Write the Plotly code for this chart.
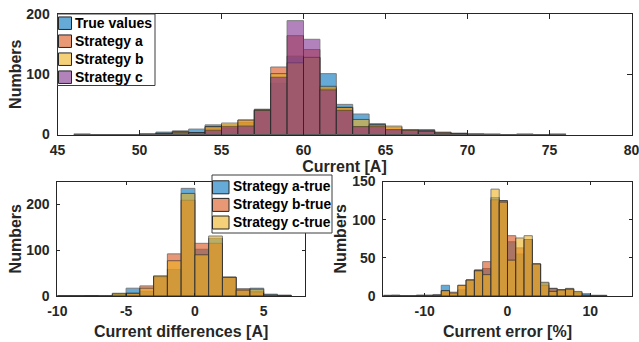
import plotly.graph_objects as go

# ---------------------------------------------------------------- data
# Panel 1: distribution of the current, 1 A bins starting at 46 A
current_bin_start = 46
current_bin_width = 1
current_true = [1, 0, 0, 0, 1, 4, 6, 9, 16, 10, 20, 42, 85, 130, 128, 101, 50, 34,
                18, 8, 7, 8, 2, 1, 1, 1, 0, 1, 0, 1]
current_a = [0, 0, 0, 0, 0, 2, 3, 3, 13, 16, 24, 40, 112, 164, 141, 77, 45, 13,
             16, 12, 7, 7, 4, 2, 0, 0, 0, 0, 0, 0]
current_b = [0, 0, 0, 0, 0, 2, 5, 3, 13, 19, 24, 41, 101, 119, 128, 80, 45, 25,
             16, 14, 8, 6, 3, 1, 1, 0, 0, 0, 0, 0]
current_c = [0, 0, 0, 0, 1, 1, 3, 3, 7, 13, 14, 40, 95, 189, 158, 74, 40, 13,
             13, 8, 7, 5, 2, 2, 0, 0, 0, 0, 0, 0]
current_names = ["True values", "Strategy a", "Strategy b", "Strategy c"]

# Panel 2: strategy minus true current, 1 A bins starting at -10 A
diff_bin_start = -10
diff_bin_width = 1
diff_a = [1, 0, 1, 0, 5, 17, 10, 43, 58, 235, 102, 126, 41, 13, 17, 4, 1]
diff_b = [0, 0, 1, 0, 3, 6, 22, 42, 92, 209, 115, 115, 41, 16, 9, 2, 2]
diff_c = [0, 1, 0, 0, 6, 6, 17, 44, 77, 224, 90, 131, 41, 13, 15, 2, 1]
diff_names = ["Strategy a-true", "Strategy b-true", "Strategy c-true"]

# Panel 3: relative error, 1 % bins starting at -15 %
err_bin_start = -15
err_bin_width = 1
err_a = [1, 0, 0, 0, 1, 0, 2, 14, 3, 8, 21, 34, 36, 129, 125, 71, 55, 74, 42,
         17, 10, 8, 9, 5, 3, 0, 0]
err_b = [0, 1, 0, 0, 1, 1, 0, 7, 5, 14, 21, 34, 45, 126, 125, 79, 63, 74, 42,
         14, 10, 8, 10, 4, 1, 1, 1]
err_c = [0, 1, 0, 0, 0, 1, 1, 7, 4, 14, 21, 33, 28, 140, 123, 47, 76, 79, 42,
         18, 6, 8, 9, 6, 1, 0, 0]

# axis ticks
current_ticks = [45, 50, 55, 60, 65, 70, 75, 80]
current_count_ticks = [0, 100, 200]
diff_ticks = [-10, -5, 0, 5]
diff_tick_text = ["-10", "-5", "0", "5"]
diff_count_ticks = [0, 100, 200]
err_ticks = [-10, 0, 10]
err_tick_text = ["-10", "0", "10"]
err_count_ticks = [0, 50, 100, 150]

# ---------------------------------------------------------------- style
W, H = 639, 342
BLUE, ORANGE, YELLOW, PURPLE = "#0072BD", "#D95319", "#EDB120", "#7E2F8E"
INK = "#262626"
FACE_ALPHA = 0.6
FONT = "Liberation Sans, Arial, sans-serif"


def rgba(hex_color, alpha):
    h = hex_color.lstrip("#")
    r, g, b = (int(h[i:i + 2], 16) for i in (0, 2, 4))
    return f"rgba({r},{g},{b},{alpha})"


def px(x):
    return x / W


def py(y):
    return 1 - y / H


fig = go.Figure()


def add_hist(counts, start, width, color, name, xa, ya):
    centers = [start + (i + 0.5) * width for i in range(len(counts))]
    fig.add_trace(go.Bar(
        x=centers, y=counts, width=width, name=name,
        marker=dict(color=color, line=dict(color=INK, width=1)),
        opacity=FACE_ALPHA, xaxis=xa, yaxis=ya, showlegend=False,
    ))


for counts, color, name in zip([current_true, current_a, current_b, current_c],
                               [BLUE, ORANGE, YELLOW, PURPLE], current_names):
    add_hist(counts, current_bin_start, current_bin_width, color, name, "x", "y")

for counts, color, name in zip([diff_a, diff_b, diff_c],
                               [BLUE, ORANGE, YELLOW], diff_names):
    add_hist(counts, diff_bin_start, diff_bin_width, color, name, "x2", "y2")

for counts, color, name in zip([err_a, err_b, err_c],
                               [BLUE, ORANGE, YELLOW], diff_names):
    add_hist(counts, err_bin_start, err_bin_width, color, name, "x3", "y3")

tick_font = dict(family=FONT, size=14, color=INK, weight="bold")
title_font = dict(family=FONT, size=16, color=INK, weight="bold")


def axis(domain, rng, tickvals, ticktext=None, ticklen=5, title=None,
         standoff=4, label_standoff=6, anchor=None):
    d = dict(domain=domain, range=rng, tickvals=tickvals, ticks="inside",
             ticklen=ticklen, tickwidth=1, tickcolor=INK, showline=True,
             linecolor=INK, linewidth=1, mirror="ticks", showgrid=False,
             zeroline=False, tickfont=tick_font, anchor=anchor,
             ticklabelstandoff=label_standoff, ticklabeloverflow="allow",
             automargin=False, fixedrange=True)
    if ticktext is not None:
        d["ticktext"] = ticktext
    if title:
        d["title"] = dict(text=title, font=title_font, standoff=standoff)
    return d


top_dom_y = [py(134.5), py(14)]
bot_dom_y = [py(296), py(181.5)]

fig.update_layout(
    width=W, height=H, margin=dict(l=0, r=0, t=0, b=0, autoexpand=False),
    paper_bgcolor="white", plot_bgcolor="white",
    barmode="overlay", showlegend=False,
    font=dict(family=FONT, color=INK),
    xaxis=axis([px(57.5), px(631.5)], [45, 80], current_ticks, ticklen=5,
               title="Current [A]", standoff=1, label_standoff=3, anchor="y"),
    yaxis=axis(top_dom_y, [0, 200], current_count_ticks, ticklen=5,
               title="Numbers", standoff=0, label_standoff=4, anchor="x"),
    xaxis2=axis([px(57.3), px(305)], [-10, 8], diff_ticks, diff_tick_text,
                ticklen=3, title="Current differences [A]", standoff=8,
                label_standoff=2, anchor="y2"),
    yaxis2=axis(bot_dom_y, [0, 250], diff_count_ticks, ticklen=3,
                title="Numbers", standoff=0, label_standoff=4, anchor="x2"),
    xaxis3=axis([px(383.3), px(631.7)], [-15, 15], err_ticks, err_tick_text,
                ticklen=3, title="Current error [%]", standoff=8,
                label_standoff=2, anchor="y3"),
    yaxis3=axis(bot_dom_y, [0, 150], err_count_ticks, ticklen=3,
                title="Numbers", standoff=1, label_standoff=4, anchor="x3"),
)

# ---------------------------------------------------------------- legends
shapes, notes = [], []


def legend(box, entries, swatch_x, swatch_h, text_x, first_y, step, size):
    x0, y0, x1, y1 = box
    shapes.append(dict(type="rect", xref="paper", yref="paper", layer="above",
                       x0=px(x0), x1=px(x1), y0=py(y1), y1=py(y0),
                       fillcolor="white", line=dict(color="#3c3c3c", width=1)))
    for i, (name, color) in enumerate(entries):
        yc = first_y + i * step
        shapes.append(dict(type="rect", xref="paper", yref="paper", layer="above",
                           x0=px(swatch_x[0]), x1=px(swatch_x[1]),
                           y0=py(yc + swatch_h / 2), y1=py(yc - swatch_h / 2),
                           fillcolor=rgba(color, FACE_ALPHA),
                           line=dict(color=INK, width=1)))
        notes.append(dict(xref="paper", yref="paper", x=px(text_x), y=py(yc - 0.5),
                          xanchor="left", yanchor="middle", showarrow=False,
                          text=name,
                          font=dict(family=FONT, size=size, color="black",
                                    weight="bold")))


legend((57.5, 14, 155, 85.5), list(zip(current_names, [BLUE, ORANGE, YELLOW, PURPLE])),
       (58.5, 71.5), 12.5, 72.5, 23.2, 18.0, 14)
legend((212, 175, 332, 233), list(zip(diff_names, [BLUE, ORANGE, YELLOW])),
       (212.5, 229), 13.0, 230.5, 187.3, 17.6, 13.8)

fig.update_layout(shapes=shapes, annotations=notes)

fig.write_html("out.html")
